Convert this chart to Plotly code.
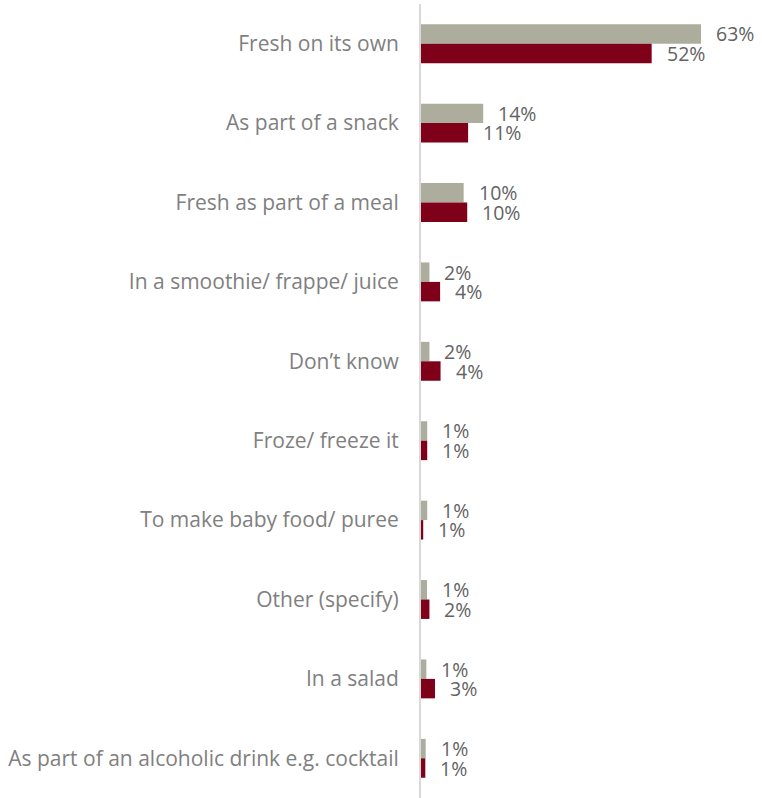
import plotly.graph_objects as go

categories = [
    "Fresh on its own",
    "As part of a snack",
    "Fresh as part of a meal",
    "In a smoothie/ frappe/ juice",
    "Don\u2019t know",
    "Froze/ freeze it",
    "To make baby food/ puree",
    "Other (specify)",
    "In a salad",
    "As part of an alcoholic drink e.g. cocktail",
]
grey_values = [63.0, 14.0, 9.6, 1.9, 1.9, 1.4, 1.4, 1.35, 1.2, 1.05]
red_values = [51.9, 10.6, 10.4, 4.3, 4.4, 1.4, 0.5, 1.9, 3.15, 0.97]
grey_labels = ["63%", "14%", "10%", "2%", "2%", "1%", "1%", "1%", "1%", "1%"]
red_labels = ["52%", "11%", "10%", "4%", "4%", "1%", "1%", "2%", "3%", "1%"]

GREY = "#ADAD9E"
RED = "#7F0019"
LABEL_COLOR = "#636363"

fig = go.Figure()
fig.add_trace(go.Bar(y=categories, x=grey_values, orientation="h",
                     marker=dict(color=GREY, line=dict(width=0)), name="Series 1"))
fig.add_trace(go.Bar(y=categories, x=red_values, orientation="h",
                     marker=dict(color=RED, line=dict(width=0)), name="Series 2"))

# data labels placed just right of each bar end
for cat, v, lab in zip(categories, grey_values, grey_labels):
    fig.add_annotation(x=v, y=cat, xref="x", yref="y", text=lab, showarrow=False,
                       xanchor="left", yanchor="middle", xshift=14, yshift=9.75,
                       borderpad=0, font=dict(size=19.5, color=LABEL_COLOR))
for cat, v, lab in zip(categories, red_values, red_labels):
    fig.add_annotation(x=v, y=cat, xref="x", yref="y", text=lab, showarrow=False,
                       xanchor="left", yanchor="middle", xshift=14, yshift=-9.75,
                       borderpad=0, font=dict(size=19.5, color=LABEL_COLOR))

fig.update_layout(
    width=762, height=798,
    margin=dict(l=421, r=9, t=4, b=0, autoexpand=False),
    barmode="group", bargap=0.51, bargroupgap=0,
    showlegend=False,
    plot_bgcolor="white", paper_bgcolor="white",
    font=dict(family="Open Sans, sans-serif", color="#7F7F7F", size=16),
)
fig.update_xaxes(range=[0, 74.7], visible=False, showgrid=False, zeroline=False)
fig.update_yaxes(
    autorange="reversed", showgrid=False, zeroline=False,
    showline=True, linecolor="#D9D9D9", linewidth=2,
    ticks="", ticklabelstandoff=16,
    tickfont=dict(size=21, color="#808080"),
)

fig.write_html("out.html", config={"displayModeBar": False},
               post_script="document.body.style.margin='0';document.body.style.overflow='hidden';")
